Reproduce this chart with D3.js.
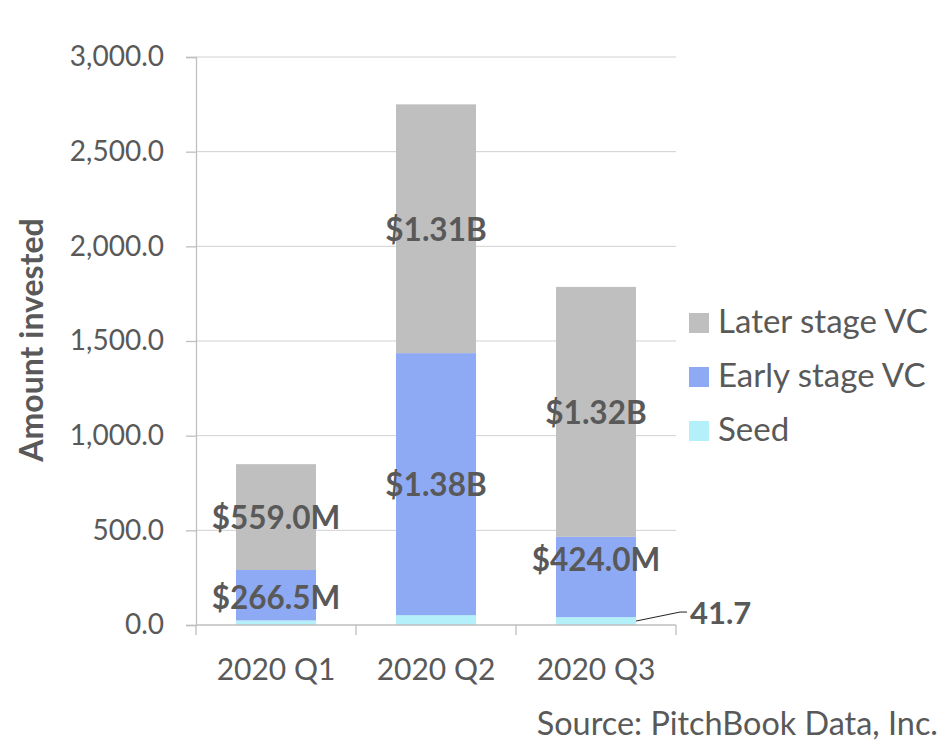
<!DOCTYPE html>
<html>
<head>
<meta charset="utf-8">
<script src="https://cdn.jsdelivr.net/npm/d3@7"></script>
<style>
  html, body { margin: 0; padding: 0; background: #ffffff; }
  svg { display: block; font-family: Lato, "Open Sans", sans-serif; }
</style>
</head>
<body>
<svg id="chart" width="948" height="752"></svg>
<script>
const categories = ["2020 Q1", "2020 Q2", "2020 Q3"];
const seriesNames = ["Seed", "Early stage VC", "Later stage VC"];
const seed = [24.0, 52.0, 41.7];
const earlyStage = [266.5, 1384.0, 424.0];
const laterStage = [559.0, 1314.0, 1320.0];
const segmentLabels = {
  "Early stage VC": ["$266.5M", "$1.38B", "$424.0M"],
  "Later stage VC": ["$559.0M", "$1.31B", "$1.32B"]
};
const seedCallout = "41.7";
const yTicks = [0, 500, 1000, 1500, 2000, 2500, 3000];
const legendOrder = ["Later stage VC", "Early stage VC", "Seed"];
const colors = { "Seed": "#b3f0fa", "Early stage VC": "#8faaf5", "Later stage VC": "#bfbfbf" };

(function () {
const svg = d3.select("#chart");
const textColor = "#595959";
const axisColor = "#bfbfbf";

const pL = 196, pR = 676, pT = 57, pB = 625;

const x = d3.scaleBand().domain(categories).range([pL, pR]).paddingInner(0.5).paddingOuter(0.25);
const y = d3.scaleLinear().domain([0, 3000]).range([pB, pT]);

const rows = categories.map((c, i) => ({
  cat: c, "Seed": seed[i], "Early stage VC": earlyStage[i], "Later stage VC": laterStage[i]
}));
const stacked = d3.stack().keys(seriesNames)(rows);

// gridlines
svg.append("g").selectAll("line").data(yTicks.filter(d => d > 0)).join("line")
  .attr("x1", pL).attr("x2", pR)
  .attr("y1", d => y(d)).attr("y2", d => y(d))
  .attr("stroke", "#d0d0d0").attr("stroke-width", 1);

// bars
const layers = svg.append("g").selectAll("g").data(stacked).join("g")
  .attr("fill", d => colors[d.key]);
layers.selectAll("rect").data(d => d).join("rect")
  .attr("x", d => x(d.data.cat))
  .attr("width", x.bandwidth())
  .attr("y", d => y(d[1]))
  .attr("height", d => y(d[0]) - y(d[1]));

// y axis
const yAxis = d3.axisLeft(y).tickValues(yTicks).tickSize(10).tickPadding(22)
  .tickFormat(d => d3.format(",.1f")(d));
const gy = svg.append("g").attr("transform", `translate(${pL},0)`).call(yAxis);
gy.select(".domain").attr("stroke", axisColor).attr("stroke-width", 1.3);
gy.selectAll(".tick line").attr("stroke", axisColor).attr("stroke-width", 1.3);
gy.selectAll(".tick text").attr("fill", textColor).attr("font-size", 28)
  .attr("font-family", "Lato, sans-serif");

// x axis
const gx = svg.append("g").attr("transform", `translate(0,${pB})`);
gx.append("line").attr("x1", pL).attr("x2", pR).attr("y1", 0).attr("y2", 0)
  .attr("stroke", axisColor).attr("stroke-width", 1.3);
const boundaries = categories.map(c => x(c) - x.step() * 0.25).concat([pR]);
gx.selectAll("line.tk").data(boundaries).join("line").attr("class", "tk")
  .attr("x1", d => d).attr("x2", d => d).attr("y1", 0).attr("y2", 10)
  .attr("stroke", axisColor).attr("stroke-width", 1.3);
gx.selectAll("text").data(categories).join("text")
  .attr("x", d => x(d) + x.bandwidth() / 2).attr("y", 55)
  .attr("text-anchor", "middle").attr("fill", textColor).attr("font-size", 30)
  .text(d => d);

// y axis title
svg.append("text")
  .attr("transform", `translate(43,340) rotate(-90)`)
  .attr("text-anchor", "middle").attr("fill", textColor)
  .attr("font-size", 32).attr("font-weight", "bold")
  .text("Amount invested");

// segment labels (the Q3 early-stage label sits raised above its segment centre)
stacked.forEach(layer => {
  const labs = segmentLabels[layer.key];
  if (!labs) return;
  svg.append("g").selectAll("text").data(layer).join("text")
    .attr("x", d => x(d.data.cat) + x.bandwidth() / 2)
    .attr("y", (d, i) => {
      const mid = (y(d[0]) + y(d[1])) / 2;
      return (layer.key === "Early stage VC" && i === 2) ? y(d[1]) + 22 : mid + (layer.key === "Early stage VC" && i === 0 ? 2 : 0);
    })
    .attr("dy", "0.38em")
    .attr("text-anchor", "middle").attr("fill", textColor)
    .attr("font-size", 31.5).attr("font-weight", "bold")
    .text((d, i) => labs[i]);
});

// seed callout for Q3
const seedLayer = stacked[0];
const q3 = seedLayer[2];
const sx = x(q3.data.cat) + x.bandwidth();
const sy = (y(q3[0]) + y(q3[1])) / 2;
const ly = sy - 9;
svg.append("polyline")
  .attr("points", `${sx},${sy} ${sx + 44},${ly} ${sx + 51},${ly}`)
  .attr("fill", "none").attr("stroke", "#222").attr("stroke-width", 1);
svg.append("text").attr("x", sx + 54).attr("y", ly).attr("dy", "0.38em")
  .attr("fill", textColor).attr("font-size", 31).attr("font-weight", "bold")
  .text(seedCallout);

// legend
const lg = svg.append("g").attr("transform", "translate(689,313)");
const li = lg.selectAll("g").data(legendOrder).join("g")
  .attr("transform", (d, i) => `translate(0,${i * 54})`);
li.append("rect").attr("width", 20).attr("height", 20).attr("fill", d => colors[d]);
li.append("text").attr("x", 29).attr("y", 20)
  .attr("fill", textColor).attr("font-size", 33).text(d => d);

// source
svg.append("text").attr("x", 938).attr("y", 735).attr("text-anchor", "end")
  .attr("fill", textColor).attr("font-size", 32.4).text("Source: PitchBook Data, Inc.");
})();
</script>
</body>
</html>
